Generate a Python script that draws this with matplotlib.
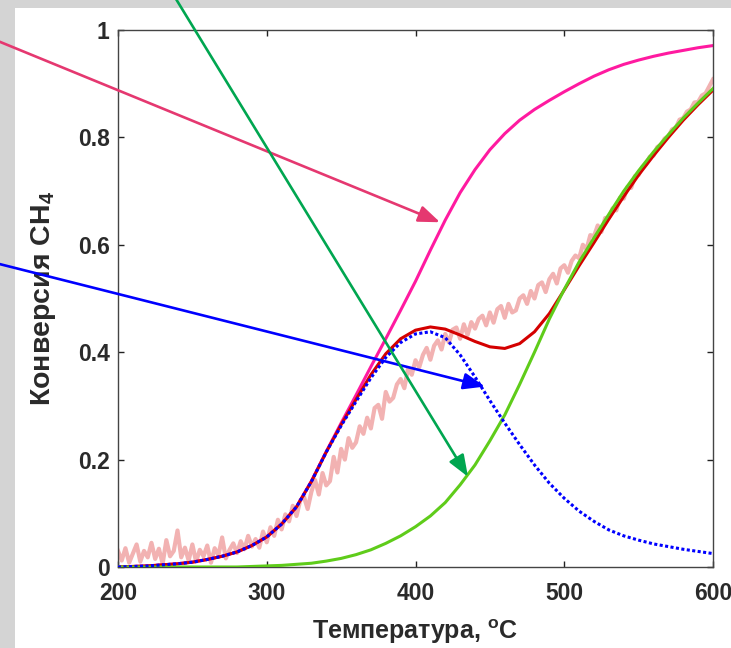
import numpy as np
import matplotlib
matplotlib.use("Agg")
import matplotlib.pyplot as plt
from matplotlib.patches import Rectangle

# temperature grid for the model curves (C)
temp = np.arange(200, 601, 10)

# model curves
conv_pink = [0.000, 0.001, 0.002, 0.004, 0.006, 0.009, 0.014, 0.020, 0.028, 0.040,
             0.056, 0.080, 0.112, 0.160, 0.215, 0.268, 0.320, 0.373, 0.425, 0.478,
             0.532, 0.590, 0.646, 0.697, 0.740, 0.777, 0.807, 0.832, 0.852, 0.869,
             0.885, 0.900, 0.914, 0.926, 0.936, 0.944, 0.951, 0.957, 0.962, 0.967,
             0.971]
conv_red = [0.000, 0.001, 0.002, 0.004, 0.006, 0.009, 0.014, 0.020, 0.028, 0.040,
            0.056, 0.080, 0.112, 0.159, 0.214, 0.265, 0.312, 0.358, 0.397, 0.425,
            0.441, 0.447, 0.443, 0.432, 0.420, 0.410, 0.407, 0.416, 0.438, 0.472,
            0.516, 0.561, 0.604, 0.648, 0.690, 0.730, 0.766, 0.800, 0.832, 0.861,
            0.888]
conv_green = [0.000, 0.000, 0.000, 0.000, 0.000, 0.000, 0.000, 0.000, 0.000, 0.001,
              0.002, 0.003, 0.005, 0.007, 0.011, 0.016, 0.023, 0.032, 0.044, 0.058,
              0.075, 0.095, 0.120, 0.153, 0.190, 0.235, 0.283, 0.340, 0.400, 0.462,
              0.517, 0.568, 0.613, 0.657, 0.700, 0.738, 0.773, 0.805, 0.836, 0.864,
              0.891]
conv_blue = [0.000, 0.001, 0.002, 0.004, 0.006, 0.009, 0.014, 0.020, 0.028, 0.040,
             0.056, 0.080, 0.112, 0.159, 0.214, 0.263, 0.308, 0.352, 0.390, 0.418,
             0.434, 0.438, 0.427, 0.395, 0.354, 0.310, 0.268, 0.228, 0.190, 0.156,
             0.128, 0.104, 0.085, 0.069, 0.058, 0.050, 0.043, 0.038, 0.033, 0.029,
             0.025]

# experimental (noisy) conversion, every 2.5 C from 200 to 600
temp_exp = np.arange(200, 600.1, 2.5)
conv_exp = [0.030, 0.012, 0.035, 0.008, 0.025, 0.042, 0.010, 0.030, 0.018, 0.045, 0.015, 0.034, 0.006, 0.050, 0.020, 0.030,
            0.068, 0.018, 0.036, 0.012, 0.042, 0.010, 0.032, 0.020, 0.040, 0.008, 0.035, 0.022, 0.055, 0.016, 0.032, 0.044,
            0.026, 0.048, 0.033, 0.058, 0.038, 0.052, 0.036, 0.066, 0.046, 0.074, 0.058, 0.088, 0.070, 0.098, 0.085, 0.114,
            0.095, 0.124, 0.131, 0.108, 0.140, 0.162, 0.135, 0.175, 0.152, 0.160, 0.205, 0.176, 0.220, 0.200, 0.240, 0.222,
            0.232, 0.262, 0.248, 0.278, 0.258, 0.296, 0.302, 0.276, 0.326, 0.308, 0.315, 0.340, 0.350, 0.333, 0.370, 0.358,
            0.385, 0.372, 0.395, 0.408, 0.386, 0.412, 0.422, 0.405, 0.434, 0.418, 0.442, 0.446, 0.425, 0.452, 0.432, 0.456,
            0.444, 0.462, 0.468, 0.450, 0.474, 0.455, 0.480, 0.486, 0.464, 0.490, 0.474, 0.478, 0.500, 0.506, 0.490, 0.514,
            0.500, 0.525, 0.530, 0.512, 0.536, 0.546, 0.528, 0.556, 0.562, 0.548, 0.570, 0.580, 0.575, 0.600, 0.592, 0.618,
            0.616, 0.636, 0.624, 0.650, 0.650, 0.668, 0.664, 0.688, 0.686, 0.708, 0.706, 0.728, 0.730, 0.745, 0.750, 0.764,
            0.766, 0.782, 0.786, 0.798, 0.802, 0.815, 0.818, 0.833, 0.836, 0.848, 0.852, 0.865, 0.866, 0.878, 0.882, 0.895,
            0.908]

x_ticks = [200, 300, 400, 500, 600]
y_ticks = [0, 0.2, 0.4, 0.6, 0.8, 1]
y_tick_labels = ["0", "0.2", "0.4", "0.6", "0.8", "1"]

# arrows: (tail, tip) in data units, tails sit outside the axes
arrow_pink = ((110, 0.99), (416.5, 0.642))
arrow_blue = ((110.6, 0.571), (446.7, 0.336))
arrow_green = ((235.4, 1.074), (435.3, 0.168))

plt.rcParams["font.family"] = ["Liberation Sans", "DejaVu Sans"]
plt.rcParams["mathtext.fontset"] = "custom"
plt.rcParams["mathtext.rm"] = "Liberation Sans"
plt.rcParams["mathtext.bf"] = "Liberation Sans:bold"

fig = plt.figure(figsize=(7.31, 6.48), dpi=100, facecolor="#d4d4d4")
panel = Rectangle((15 / 731, 0), 1, 1 - 8 / 648, transform=fig.transFigure,
                  facecolor="white", edgecolor="none", zorder=-10)
fig.add_artist(panel)

ax = fig.add_axes([118 / 731, 1 - 567 / 648, 595 / 731, 537 / 648])
ax.set_facecolor("white")

ax.plot(temp_exp, conv_exp, color="#f2b2b2", linewidth=3, zorder=1)
ax.plot(temp, conv_pink, color="#ff1aa0", linewidth=2.2, zorder=2)
ax.plot(temp, conv_red, color="#d40000", linewidth=2.2, zorder=3)
ax.plot(temp, conv_green, color="#5fcc1a", linewidth=2.2, zorder=4)
ax.plot(temp, conv_blue, color="#0000ff", linewidth=2.2, linestyle=(0, (1, 0.8)), zorder=5)

for (tail, tip), col in [(arrow_pink, "#e53870"), (arrow_blue, "#0000ff"), (arrow_green, "#00a650")]:
    ax.annotate("", xy=tip, xytext=tail, xycoords="data", textcoords="data",
                annotation_clip=False, zorder=10,
                arrowprops=dict(arrowstyle="-|>,head_length=1.3,head_width=0.5",
                                color=col, lw=1.9, shrinkA=0, shrinkB=0))

ax.set_xlim(200, 600)
ax.set_ylim(0, 1)
ax.set_xticks(x_ticks)
ax.set_yticks(y_ticks)
ax.set_yticklabels(y_tick_labels)
ax.tick_params(direction="in", length=4, width=1, top=True, right=True,
               labelsize=16.5, colors="#222222")
ax.tick_params(axis="x", pad=11)
ax.tick_params(axis="y", pad=6)
for lab in ax.get_xticklabels() + ax.get_yticklabels():
    lab.set_fontweight("bold")
    lab.set_color("#2a2a2a")
for sp in ax.spines.values():
    sp.set_color("#444444")
    sp.set_linewidth(1)

ax.set_xlabel(r"Температура, $^{\mathbf{o}}$C", fontsize=18, fontweight="bold",
              color="#2a2a2a", labelpad=9)
ax.set_ylabel(r"Конверсия CH$_{\mathbf{4}}$", fontsize=20.5, fontweight="bold",
              color="#2a2a2a", labelpad=14)

fig.savefig("out.png", dpi=100, facecolor=fig.get_facecolor())
